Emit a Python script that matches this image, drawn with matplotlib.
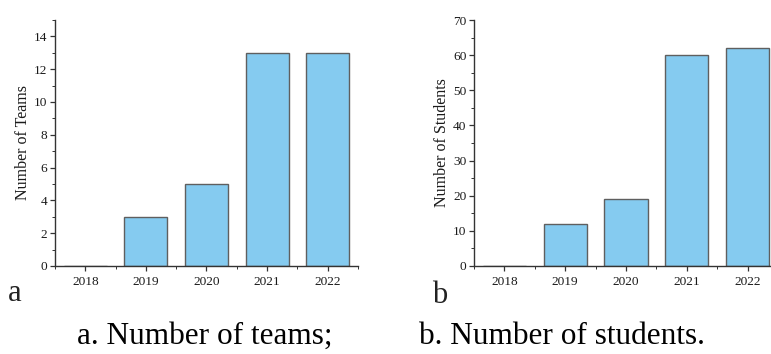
import numpy as np
import matplotlib.pyplot as plt
from matplotlib.ticker import MultipleLocator

plt.rcParams['font.family'] = ['Liberation Serif', 'DejaVu Serif']

years = ['2018', '2019', '2020', '2021', '2022']
teams = [0, 3, 5, 13, 13]
students = [0, 12, 19, 60, 62]

bar_color = '#85CBF0'
edge_color = '#5f5f5f'

fig = plt.figure(figsize=(7.71, 3.54), dpi=100)


def draw_panel(ax, values, ylabel, ymax, ystep):
    x = np.arange(len(years))
    ax.bar(x, values, width=0.71, color=bar_color, edgecolor=edge_color, linewidth=1.0)
    ax.set_xlim(-0.5, len(years) - 0.5)
    ax.set_ylim(0, ymax)
    ax.set_xticks(x)
    ax.set_xticklabels(years)
    ax.xaxis.set_minor_locator(MultipleLocator(0.5))
    ax.yaxis.set_major_locator(MultipleLocator(ystep))
    ax.yaxis.set_minor_locator(MultipleLocator(ystep / 2))
    ax.spines['top'].set_visible(False)
    ax.spines['right'].set_visible(False)
    for s in ('left', 'bottom'):
        ax.spines[s].set_color('#333333')
        ax.spines[s].set_linewidth(1.0)
    ax.tick_params(which='major', direction='out', length=3.5, width=0.9,
                   labelsize=9.6, colors='#333333', labelcolor='#1a1a1a', pad=2)
    ax.tick_params(which='minor', direction='out', length=2, width=0.7, colors='#333333')
    ax.tick_params(axis='x', which='major', pad=4)
    ax.set_ylabel(ylabel, fontsize=11.5, color='#1a1a1a', labelpad=2)


# panel a: teams per year
ax1 = fig.add_axes([0.0713, 0.2486, 0.3930, 0.6949])
draw_panel(ax1, teams, 'Number of Teams', 15, 2)

# panel b: students per year (runs off the right edge)
ax2 = fig.add_axes([0.6148, 0.2486, 0.3943, 0.6949])
draw_panel(ax2, students, 'Number of Students', 70, 10)

fig.text(0.010, 0.150, 'a', fontsize=22, color='#222222')
fig.text(0.561, 0.145, 'b', fontsize=22, color='#222222')

fig.text(0.2655, 0.028, 'a. Number of teams;', fontsize=22.5, ha='center', color='black')
fig.text(0.7285, 0.028, 'b. Number of students.', fontsize=22.5, ha='center', color='black')

fig.savefig('out.png', dpi=100)
